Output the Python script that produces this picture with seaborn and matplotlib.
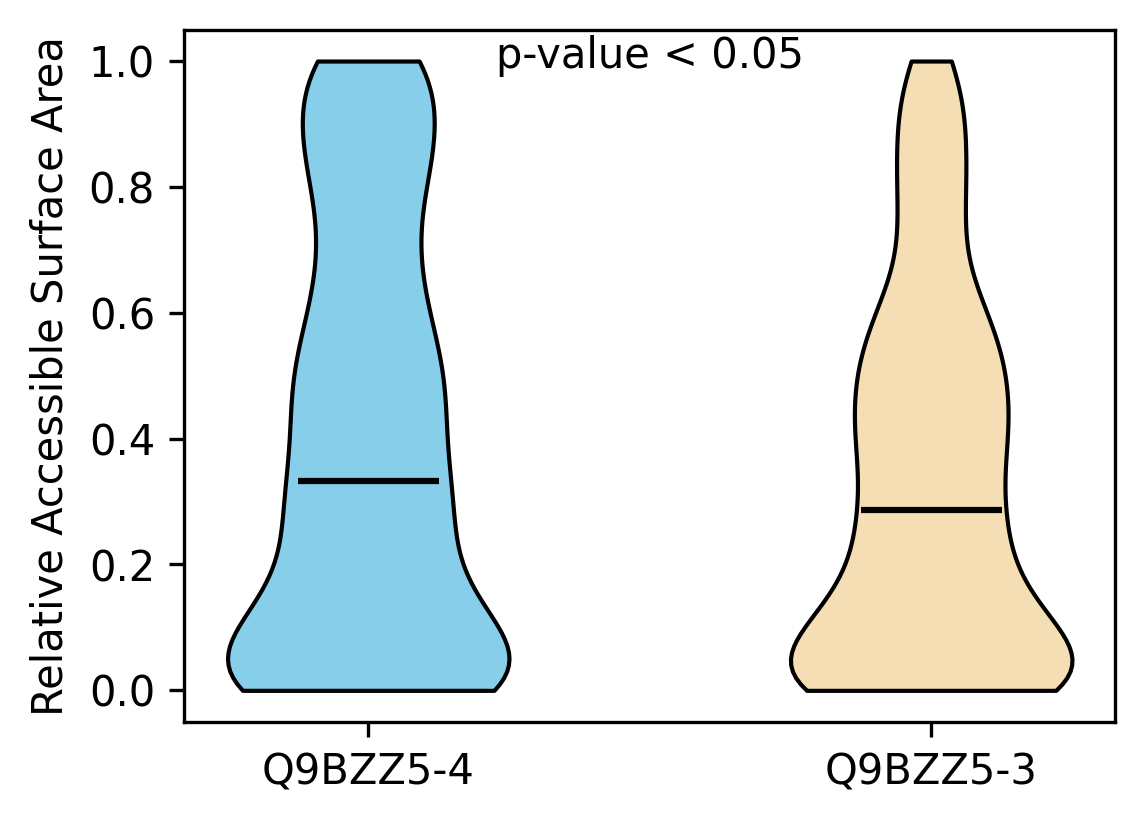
import matplotlib
matplotlib.use("Agg")
import matplotlib.pyplot as plt
import numpy as np
import pandas as pd
import seaborn as sns

# RSA values and how often each one occurs
levels_iso4 = [0.00, 0.05, 0.10, 0.15, 0.20, 0.25, 0.30, 0.333, 0.40, 0.45, 0.50,
               0.55, 0.60, 0.65, 0.70, 0.75, 0.80, 0.85, 0.90, 0.95, 1.00]
counts_iso4 = [34, 14, 16, 10, 8, 9, 9, 9, 9, 9, 9, 8, 6, 6, 5, 5, 6, 8, 8, 6, 12]

levels_iso3 = [0.00, 0.05, 0.10, 0.15, 0.20, 0.25, 0.287, 0.35, 0.40, 0.45, 0.50,
               0.55, 0.60, 0.65, 0.70, 0.75, 0.80, 0.85, 0.90, 0.95, 1.00]
counts_iso3 = [31, 15, 16, 10, 8, 8, 8, 9, 9, 9, 9, 8, 7, 4, 3, 4, 4, 4, 4, 4, 3]

isoforms = ["Q9BZZ5-4", "Q9BZZ5-3"]
colors = ["skyblue", "wheat"]
pvalue_text = "p-value < 0.05"

df = pd.concat([
    pd.DataFrame({"isoform": isoforms[0], "rsa": np.repeat(levels_iso4, counts_iso4)}),
    pd.DataFrame({"isoform": isoforms[1], "rsa": np.repeat(levels_iso3, counts_iso3)}),
])

fig, ax = plt.subplots(figsize=(3.813, 2.747), dpi=300)

sns.violinplot(data=df, x="isoform", y="rsa", hue="isoform", palette=colors,
               order=isoforms, hue_order=isoforms, cut=0, inner=None, width=0.5,
               density_norm="width", bw_method=0.24, linecolor="black", linewidth=1,
               saturation=1, legend=False, ax=ax)

# median lines
medians = df.groupby("isoform")["rsa"].median()
for i, iso in enumerate(isoforms):
    ax.hlines(medians[iso], i - 0.125, i + 0.125, color="black", linewidth=1.5)

ax.text(0.5, 0.945, pvalue_text, ha="center", transform=ax.transAxes, fontsize=10)

ax.set_xlim(-0.327, 1.327)
ax.set_ylim(-0.05, 1.05)
ax.set_xlabel("")
ax.set_ylabel("Relative Accessible Surface Area")

fig.subplots_adjust(left=0.161, right=0.975, top=0.964, bottom=0.124)
fig.savefig("out.png", dpi=300)
